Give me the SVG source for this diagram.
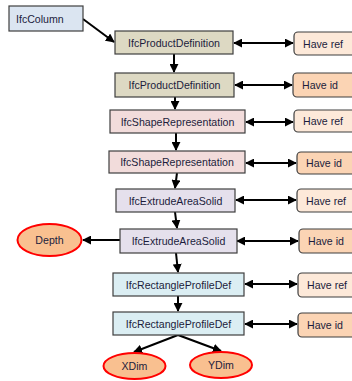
<svg xmlns="http://www.w3.org/2000/svg" width="352" height="381" viewBox="0 0 352 381">
<style>
.b{stroke:#3f3f3f;stroke-width:1.2}
.h{stroke:#3f3f3f;stroke-width:1.2}
.ref{fill:#fde9d9}
.id{fill:#fbd4b4}
.e{fill:#f9c090;stroke:#ff0000;stroke-width:2}
text{font-family:"Liberation Sans",Arial,sans-serif;font-size:10.6px;fill:#1c1c3c;dominant-baseline:central}
.c{text-anchor:middle}
.l line,.l path{stroke:#000;stroke-width:2;fill:none}
</style>
<defs>
<marker id="a" viewBox="0 0 10 10" refX="9" refY="5" markerWidth="4.5" markerHeight="4.5" orient="auto-start-reverse" markerUnits="strokeWidth">
<path d="M0,0L10,5L0,10z" fill="#000"/>
</marker>
</defs>
<g class="l">
<line x1="83" y1="19" x2="114" y2="42" marker-end="url(#a)"/>
<line x1="174" y1="54" x2="174" y2="72" marker-end="url(#a)"/>
<line x1="175" y1="97" x2="175" y2="109" marker-end="url(#a)"/>
<line x1="176" y1="133" x2="176" y2="150" marker-end="url(#a)"/>
<line x1="177" y1="173" x2="175" y2="188" marker-end="url(#a)"/>
<line x1="175" y1="212" x2="177" y2="228" marker-end="url(#a)"/>
<line x1="176" y1="253" x2="178" y2="272" marker-end="url(#a)"/>
<line x1="178" y1="296" x2="178" y2="311" marker-end="url(#a)"/>
<line x1="234" y1="43" x2="293" y2="43" marker-start="url(#a)" marker-end="url(#a)"/>
<line x1="235" y1="85" x2="292" y2="85" marker-start="url(#a)" marker-end="url(#a)"/>
<line x1="246" y1="122" x2="293" y2="122" marker-start="url(#a)" marker-end="url(#a)"/>
<line x1="246" y1="163" x2="296" y2="163" marker-start="url(#a)" marker-end="url(#a)"/>
<line x1="236" y1="200" x2="296" y2="200" marker-start="url(#a)" marker-end="url(#a)"/>
<line x1="237" y1="241" x2="298" y2="241" marker-start="url(#a)" marker-end="url(#a)"/>
<line x1="245" y1="284" x2="297" y2="284" marker-start="url(#a)" marker-end="url(#a)"/>
<line x1="245" y1="324" x2="297" y2="324" marker-start="url(#a)" marker-end="url(#a)"/>
<line x1="120" y1="240" x2="83" y2="240" marker-end="url(#a)"/>
<line x1="178" y1="335" x2="134" y2="352" marker-end="url(#a)"/>
<line x1="178" y1="335" x2="221" y2="351" marker-end="url(#a)"/>
</g>
<g id="ifccolumn"><rect class="b" x="9" y="6" width="74" height="25" fill="#dbe5f1"/><text x="16" y="18.5">IfcColumn</text></g>
<g id="pd1"><rect class="b" x="115" y="31" width="118" height="23" fill="#ddd9c3"/><text class="c" x="174" y="42.5">IfcProductDefinition</text></g>
<g id="pd2"><rect class="b" x="115" y="73" width="119" height="24" fill="#ddd9c3"/><text class="c" x="174.5" y="85">IfcProductDefinition</text></g>
<g id="sr1"><rect class="b" x="110" y="110" width="135" height="23" fill="#f2dcdb"/><text class="c" x="177.5" y="121.5">IfcShapeRepresentation</text></g>
<g id="sr2"><rect class="b" x="109" y="151" width="136" height="22" fill="#f2dcdb"/><text class="c" x="177" y="162">IfcShapeRepresentation</text></g>
<g id="eas1"><rect class="b" x="116" y="189" width="119" height="23" fill="#e5e0ec"/><text class="c" x="175.5" y="200.5">IfcExtrudeAreaSolid</text></g>
<g id="eas2"><rect class="b" x="120" y="229" width="117" height="24" fill="#e5e0ec"/><text class="c" x="178.5" y="241">IfcExtrudeAreaSolid</text></g>
<g id="rpd1"><rect class="b" x="113" y="273" width="131" height="23" fill="#dbeef3"/><text class="c" x="178.5" y="284.5">IfcRectangleProfileDef</text></g>
<g id="rpd2"><rect class="b" x="113" y="312" width="131" height="23" fill="#dbeef3"/><text class="c" x="178.5" y="323.5">IfcRectangleProfileDef</text></g>
<g id="h1"><rect class="h ref" x="294" y="32" width="70" height="23" rx="4"/><text x="303" y="43.5">Have ref</text></g>
<g id="h2"><rect class="h id" x="293" y="73" width="70" height="24" rx="4"/><text x="302" y="85">Have id</text></g>
<g id="h3"><rect class="h ref" x="294" y="110" width="70" height="22" rx="4"/><text x="303" y="121">Have ref</text></g>
<g id="h4"><rect class="h id" x="297" y="152" width="70" height="22" rx="4"/><text x="306" y="163">Have id</text></g>
<g id="h5"><rect class="h ref" x="297" y="189" width="70" height="23" rx="4"/><text x="306" y="200.5">Have ref</text></g>
<g id="h6"><rect class="h id" x="299" y="229" width="70" height="24" rx="4"/><text x="308" y="241">Have id</text></g>
<g id="h7"><rect class="h ref" x="298" y="273" width="70" height="24" rx="4"/><text x="307" y="285">Have ref</text></g>
<g id="h8"><rect class="h id" x="298" y="313" width="70" height="24" rx="4"/><text x="307" y="325">Have id</text></g>
<g id="depth"><ellipse class="e" cx="49.5" cy="240" rx="32" ry="16"/><text class="c" x="49.5" y="240">Depth</text></g>
<g id="xdim"><ellipse class="e" cx="134.5" cy="366" rx="31" ry="13"/><text class="c" x="134.5" y="366">XDim</text></g>
<g id="ydim"><ellipse class="e" cx="221" cy="365" rx="31" ry="13"/><text class="c" x="221" y="365">YDim</text></g>
</svg>
